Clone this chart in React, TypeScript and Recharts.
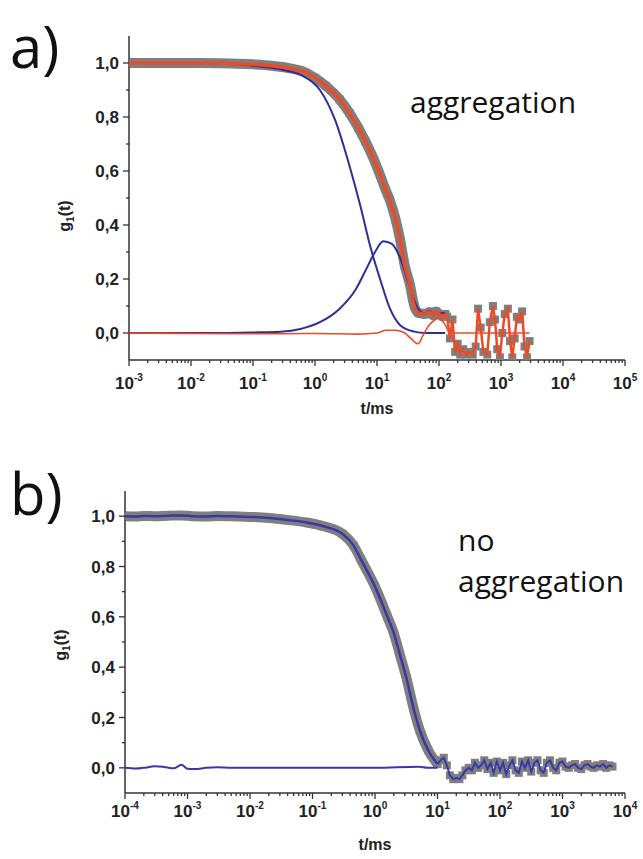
import React from 'react';
import { ComposedChart, Line, XAxis, YAxis } from 'recharts';

// ---- panel a) aggregation ----
const A_DATA_T = [0.001, 0.003, 0.01, 0.03, 0.1, 0.2, 0.4, 0.7, 1, 1.5, 2.5, 3.6, 5, 6.5, 9, 11.2, 13.5, 16.2, 20, 23.4, 28, 33.9, 40, 46, 52, 60, 70, 80, 90, 100, 115, 126];
const A_DATA_G = [1.0, 1.0, 1.0, 0.999, 0.995, 0.99, 0.98, 0.965, 0.945, 0.915, 0.865, 0.815, 0.76, 0.71, 0.64, 0.585, 0.535, 0.49, 0.42, 0.35, 0.25, 0.18, 0.1, 0.075, 0.072, 0.07, 0.078, 0.066, 0.08, 0.07, 0.062, 0.07];
const A_NOISE_T = [135, 150, 165, 182, 200, 220, 245, 275, 310, 350, 390, 427, 470, 520, 600, 660, 741, 800, 870, 960, 1050, 1150, 1290, 1400, 1520, 1660, 1800, 2000, 2190, 2400, 2630, 2890];
const A_NOISE_G = [0.06, -0.02, 0.05, -0.07, -0.04, -0.08, -0.06, -0.08, -0.07, -0.08, -0.05, 0.09, 0.02, -0.07, -0.08, 0.04, 0.1, 0.05, -0.06, -0.09, 0.0, 0.07, 0.09, -0.03, -0.09, -0.02, 0.06, 0.05, 0.08, -0.05, -0.09, -0.03];
const A_FAST_T = [0.001, 0.01, 0.05, 0.1, 0.3, 0.6, 1.2, 2.1, 3.8, 5.4, 7.8, 11.2, 16.2, 23.4, 40, 60, 126];
const A_FAST_G = [1.0, 1.0, 0.995, 0.99, 0.975, 0.955, 0.9, 0.79, 0.6, 0.47, 0.32, 0.2, 0.09, 0.03, 0.005, 0.0, 0.0];
const A_SLOW_T = [0.001, 0.03, 0.1, 0.28, 0.58, 1.2, 2.5, 4.5, 6.5, 9.3, 12.6, 17.4, 23.4, 33.9, 45.7, 59, 70, 80, 90, 100, 126];
const A_SLOW_G = [0.0, 0.0, 0.002, 0.005, 0.015, 0.04, 0.09, 0.16, 0.23, 0.3, 0.34, 0.33, 0.28, 0.17, 0.09, 0.072, 0.082, 0.07, 0.08, 0.072, 0.075];
const A_RES_T = [0.001, 0.01, 0.1, 1, 5, 10, 14, 20, 28, 35, 46, 55, 65, 77, 100, 126, 150, 2890];
const A_RES_G = [0.0, -0.002, -0.003, -0.002, -0.004, 0.0, 0.01, 0.01, 0.0, -0.02, -0.04, -0.01, 0.02, 0.04, 0.055, 0.03, 0.0, 0.0];

// ---- panel b) no aggregation ----
const B_DATA_T = [0.0001, 0.00015, 0.0002, 0.0003, 0.0005, 0.0008, 0.0012, 0.002, 0.003, 0.005, 0.01, 0.02, 0.04, 0.08, 0.15, 0.3, 0.45, 0.59, 1, 1.58, 2, 2.5, 3.16, 4.2, 5.2, 7.1, 10];
const B_DATA_G = [1.0, 0.999, 1.001, 1.0, 1.002, 1.003, 1.0, 0.999, 1.001, 1.0, 0.997, 0.993, 0.985, 0.975, 0.96, 0.93, 0.885, 0.83, 0.72, 0.6, 0.535, 0.45, 0.36, 0.23, 0.15, 0.07, 0.015];
const B_NOISE_T = [11.2, 12.6, 14.1, 15.8, 17.8, 20, 22.4, 25, 28, 31.6, 35.5, 39.8, 44.7, 50, 56, 63, 71, 79, 89, 100, 112, 126, 141, 158, 178, 200, 224, 251, 282, 316, 355, 398, 447, 501, 562, 631, 708, 794, 891, 1000, 1122, 1259, 1413, 1585, 1778, 1995, 2239, 2512, 2818, 3162, 3548, 3981, 4467, 5012, 5623, 6310];
const B_NOISE_G = [0.03, 0.04, 0.01, -0.03, -0.045, -0.04, -0.045, -0.03, -0.01, 0.0, -0.01, 0.02, 0.0, 0.01, 0.03, -0.005, 0.02, -0.02, 0.025, -0.01, 0.02, -0.025, 0.01, 0.03, -0.01, -0.02, 0.025, 0.0, 0.03, -0.015, 0.02, 0.03, -0.01, -0.02, 0.02, 0.03, 0.0, -0.01, 0.02, 0.025, 0.005, 0.0, 0.01, 0.015, 0.0, -0.005, 0.01, 0.015, 0.005, 0.0, 0.01, 0.005, 0.015, 0.0, 0.01, 0.005];
const B_RES_T = [0.0001, 0.00015, 0.0002, 0.0003, 0.0004, 0.0005, 0.0006, 0.0008, 0.001, 0.0013, 0.002, 0.003, 0.005, 0.01, 0.1, 1, 5, 7, 10];
const B_RES_G = [0.0, -0.003, 0.0, 0.006, 0.004, 0.0, -0.002, 0.012, -0.004, -0.005, 0.0, 0.002, 0.0, 0.0, 0.0, 0.0, 0.004, 0.0, 0.0];

// ---- axes ----
const A_DECADES = [0.001, 0.01, 0.1, 1, 10, 100, 1000, 10000, 100000];
const A_EXPONENTS = ['-3', '-2', '-1', '0', '1', '2', '3', '4', '5'];
const B_DECADES = [0.0001, 0.001, 0.01, 0.1, 1, 10, 100, 1000, 10000];
const B_EXPONENTS = ['-4', '-3', '-2', '-1', '0', '1', '2', '3', '4'];
const Y_TICKS = [0, 0.1, 0.2, 0.3, 0.4, 0.5, 0.6, 0.7, 0.8, 0.9, 1.0];
const Y_LABELS = ['0,0', '', '0,2', '', '0,4', '', '0,6', '', '0,8', '', '1,0'];

const GRAY = '#7f7f7f';
const RED = '#ec4b27';
const BLUE = '#2f2f98';
const BLUE_B = '#3838a6';
const AXIS = '#333333';
const TICK_FONT = '"Liberation Sans", Arial, sans-serif';
const TEXT_FONT = '"Open Sans", sans-serif';

const pts = (t: number[], g: number[]) => t.map((v, i) => ({ t: v, g: g[i] }));

function minorTicks(decades: number[]) {
  const out: number[] = [];
  decades.slice(0, -1).forEach((d) => {
    for (let k = 2; k <= 9; k++) out.push(+(k * d).toPrecision(3));
  });
  return out;
}

function makeXTick(decades: number[], exps: string[], labelOffset: number) {
  return (props: any) => {
    const { x, y, index } = props;
    const major = index < decades.length;
    return (
      <g>
        <line x1={x} x2={x} y1={y} y2={y + (major ? 6 : 3)} stroke={AXIS} strokeWidth={1.3} />
        {major && (
          <text x={x} y={y + labelOffset} textAnchor="middle" fontFamily={TICK_FONT} fontWeight="bold" fontSize={17} fill="#222">
            10
            <tspan dy={-8} fontSize={10}>{exps[index]}</tspan>
          </text>
        )}
      </g>
    );
  };
}

const YTick = (props: any) => {
  const { x, y, index } = props;
  const label = Y_LABELS[index];
  return (
    <g>
      <line x1={x - (label ? 6 : 3)} x2={x} y1={y} y2={y} stroke={AXIS} strokeWidth={1.3} />
      {label && (
        <text x={x - 10} y={y + 6} textAnchor="end" fontFamily={TICK_FONT} fontWeight="bold" fontSize={17} fill="#222">
          {label}
        </text>
      )}
    </g>
  );
};

const square = (color: string) => (p: any) => (
  <rect key={p.index} x={p.cx - 4} y={p.cy - 4} width={8} height={8} fill={color} />
);

// two stacked charts with the same scales: the gray data band underneath, the lines on top
function Panel({ decades, exps, labelOffset, width, height, margin, under, over }: any) {
  const ticks = [...decades, ...minorTicks(decades)];
  const domain = [decades[0], decades[decades.length - 1]];
  const plotMargin = { top: margin.top, right: margin.right, bottom: margin.bottom + 60, left: margin.left + 50 };
  return (
    <div style={{ position: 'relative', width, height }}>
      <div style={{ position: 'absolute', left: 0, top: 0 }}>
        <ComposedChart width={width} height={height} margin={margin}>
          <XAxis
            dataKey="t"
            type="number"
            scale="log"
            domain={domain}
            allowDataOverflow
            ticks={ticks}
            interval={0}
            tickSize={0}
            tickMargin={0}
            tickLine={false}
            tick={makeXTick(decades, exps, labelOffset)}
            axisLine={{ stroke: AXIS, strokeWidth: 1.5 }}
            height={60}
          />
          <YAxis
            dataKey="g"
            type="number"
            domain={[-0.1, 1.1]}
            allowDataOverflow
            ticks={Y_TICKS}
            interval={0}
            tickSize={0}
            tickMargin={0}
            tickLine={false}
            tick={YTick}
            axisLine={{ stroke: AXIS, strokeWidth: 1.5 }}
            width={50}
          />
          {under}
        </ComposedChart>
      </div>
      <div style={{ position: 'absolute', left: 0, top: 0 }}>
        <ComposedChart width={width} height={height} margin={plotMargin}>
          <XAxis dataKey="t" type="number" scale="log" domain={domain} allowDataOverflow hide />
          <YAxis dataKey="g" type="number" domain={[-0.1, 1.1]} allowDataOverflow hide />
          {over}
        </ComposedChart>
      </div>
    </div>
  );
}

export default function App() {
  const aData = pts(A_DATA_T, A_DATA_G);
  const aNoise = [aData[aData.length - 1], ...pts(A_NOISE_T, A_NOISE_G)];
  const bData = pts(B_DATA_T, B_DATA_G);
  const bNoise = [bData[bData.length - 1], ...pts(B_NOISE_T, B_NOISE_G)];

  return (
    <div style={{ position: 'absolute', left: 0, top: 0, width: 643, height: 859, background: '#fff' }}>
      <div style={{ position: 'absolute', left: 0, top: 0 }}>
        <Panel
          decades={A_DECADES}
          exps={A_EXPONENTS}
          labelOffset={29}
          width={643}
          height={420}
          margin={{ top: 36, right: 18, bottom: 0, left: 79 }}
          under={[
            <Line key="band" data={aData} dataKey="g" type="monotone" stroke={GRAY} strokeWidth={10} dot={square(GRAY)} isAnimationActive={false} />,
            <Line key="sq" data={aNoise} dataKey="g" type="linear" stroke="none" dot={square(GRAY)} isAnimationActive={false} />,
          ]}
          over={[
            <Line key="fast" data={pts(A_FAST_T, A_FAST_G)} dataKey="g" type="monotone" stroke={BLUE} strokeWidth={2} dot={false} isAnimationActive={false} />,
            <Line key="slow" data={pts(A_SLOW_T, A_SLOW_G)} dataKey="g" type="monotone" stroke={BLUE} strokeWidth={2} dot={false} isAnimationActive={false} />,
            <Line key="res" data={pts(A_RES_T, A_RES_G)} dataKey="g" type="monotone" stroke={RED} strokeWidth={1.6} dot={false} isAnimationActive={false} />,
            <Line key="fit" data={aData} dataKey="g" type="monotone" stroke={RED} strokeWidth={3.5} dot={false} isAnimationActive={false} />,
            <Line key="noise" data={aNoise} dataKey="g" type="linear" stroke={RED} strokeWidth={2.5} dot={false} isAnimationActive={false} />,
          ]}
        />
      </div>
      <div style={{ position: 'absolute', left: 0, top: 420 }}>
        <Panel
          decades={B_DECADES}
          exps={B_EXPONENTS}
          labelOffset={24}
          width={643}
          height={439}
          margin={{ top: 71, right: 18, bottom: 6, left: 75 }}
          under={[
            <Line key="band" data={bData} dataKey="g" type="monotone" stroke={GRAY} strokeWidth={10} dot={square(GRAY)} isAnimationActive={false} />,
            <Line key="sq" data={bNoise} dataKey="g" type="linear" stroke="none" dot={square(GRAY)} isAnimationActive={false} />,
          ]}
          over={[
            <Line key="res" data={pts(B_RES_T, B_RES_G)} dataKey="g" type="monotone" stroke={BLUE_B} strokeWidth={2} dot={false} isAnimationActive={false} />,
            <Line key="fit" data={bData} dataKey="g" type="monotone" stroke={BLUE_B} strokeWidth={2.5} dot={false} isAnimationActive={false} />,
            <Line key="noise" data={bNoise} dataKey="g" type="linear" stroke={BLUE_B} strokeWidth={2} dot={false} isAnimationActive={false} />,
          ]}
        />
      </div>
      <svg width={643} height={859} style={{ position: 'absolute', left: 0, top: 0, pointerEvents: 'none' }}>
        <text x={10} y={68} fontFamily={TEXT_FONT} fontSize={58} fill="#111">a)</text>
        <text x={410} y={113} fontFamily={TEXT_FONT} fontSize={30} fill="#111">aggregation</text>
        <text x={377} y={414} textAnchor="middle" fontFamily={TICK_FONT} fontWeight="bold" fontSize={16} fill="#222">t/ms</text>
        <text transform="translate(70,216) rotate(-90)" textAnchor="middle" fontFamily={TICK_FONT} fontWeight="bold" fontSize={16} fill="#222">
          g<tspan dy={4} fontSize={10}>1</tspan><tspan dy={-4}>(t)</tspan>
        </text>

        <text x={10} y={515} fontFamily={TEXT_FONT} fontSize={58} fill="#111">b)</text>
        <text x={458} y={551} fontFamily={TEXT_FONT} fontSize={30} fill="#111">no</text>
        <text x={458} y={592} fontFamily={TEXT_FONT} fontSize={30} fill="#111">aggregation</text>
        <text x={375} y={850} textAnchor="middle" fontFamily={TICK_FONT} fontWeight="bold" fontSize={16} fill="#222">t/ms</text>
        <text transform="translate(66,645) rotate(-90)" textAnchor="middle" fontFamily={TICK_FONT} fontWeight="bold" fontSize={16} fill="#222">
          g<tspan dy={4} fontSize={10}>1</tspan><tspan dy={-4}>(t)</tspan>
        </text>
      </svg>
    </div>
  );
}
